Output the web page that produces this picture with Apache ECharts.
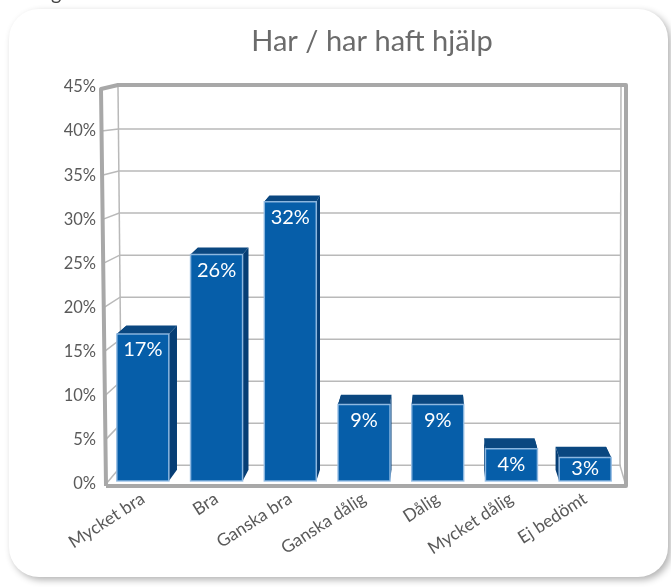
<!DOCTYPE html>
<html>
<head>
<meta charset="utf-8">
<script src="https://cdn.jsdelivr.net/npm/echarts@6/dist/echarts.min.js"></script>
<style>
  html, body { margin: 0; padding: 0; background: #fff; }
  #chart { width: 671px; height: 587px; }
</style>
</head>
<body>
<div id="chart"></div>
<script>
// data
var categories = ['Mycket bra', 'Bra', 'Ganska bra', 'Ganska dålig', 'Dålig', 'Mycket dålig', 'Ej bedömt'];
var values = [17, 26, 32, 9, 9, 4, 3];
var yMin = 0, yMax = 45, yStep = 5;

var dom = document.getElementById('chart');
var myChart = echarts.init(dom);

var FONT = 'Lato, "Open Sans", sans-serif';
var frameColor = '#a8a8a8';
var gridColor = '#b9b9b9';

// back-wall perspective: back wall is a bit shorter than the front scale
function backY(cs, y) { return cs.y + (y - cs.y) * 0.953; }

function renderFrame(params, api) {
    var cs = params.coordSys;
    var top = cs.y, bot = cs.y + cs.height, left = cs.x, right = cs.x + cs.width;
    var kids = [];
    var frontLeftX = function (y) { return left - 5 + (y - top) / cs.height * 5; };
    var backLeftX = function (y) { return left + 12 + (y - top) / cs.height * 4; };
    var backRight = right - 1;
    var floorBack = backY(cs, api.coord([0, yMin])[1]);

    // grid lines on back wall + left wall
    for (var v = yMin; v < yMax; v += yStep) {
        var yf = api.coord([0, v])[1];
        var yb = backY(cs, yf);
        kids.push({
            type: 'polyline',
            shape: { points: [[frontLeftX(yf), yf], [backLeftX(yb), yb], [backRight, yb]] },
            style: { stroke: gridColor, lineWidth: 1.5, fill: null }
        });
    }
    // back wall verticals
    kids.push({ type: 'line', shape: { x1: backLeftX(top), y1: top, x2: backLeftX(floorBack), y2: floorBack },
        style: { stroke: gridColor, lineWidth: 1.5 } });
    kids.push({ type: 'line', shape: { x1: backRight, y1: top - 2, x2: backRight - 1, y2: floorBack },
        style: { stroke: gridColor, lineWidth: 1.5 } });
    // right floor diagonal
    kids.push({ type: 'line', shape: { x1: backRight - 1, y1: floorBack, x2: right + 4, y2: bot + 2 },
        style: { stroke: gridColor, lineWidth: 1.5 } });
    // thick outer frame
    kids.push({
        type: 'polyline',
        shape: { points: [[left, bot + 2], [left - 5, top + 2], [left + 12, top - 2], [right + 4, top - 2],
            [right + 4, bot + 2], [left, bot + 2]] },
        style: { stroke: frameColor, lineWidth: 4, fill: null, lineJoin: 'round' }
    });
    return { type: 'group', children: kids };
}

// simple perspective toward a point above the middle of the plot
function back(pt) {
    return [pt[0] + (440 - pt[0]) * 0.03, pt[1] - (4 + (pt[1] - 85) * 0.018)];
}

function renderBar(params, api) {
    var i = api.value(0), v = api.value(1);
    var p = api.coord([i, v]);
    var p0 = api.coord([i, 0]);
    var w = 52;
    var xl = p[0] - w / 2, xr = p[0] + w / 2, yt = p[1], yb = p0[1] - 3;
    var ftl = [xl, yt], ftr = [xr, yt], fbl = [xl, yb], fbr = [xr, yb];
    var btl = back(ftl), btr = back(ftr), bbl = back(fbl), bbr = back(fbr);
    var ly = Math.min(yt + 16, yb - 12);
    return {
        type: 'group',
        children: [
            { type: 'polygon', shape: { points: [ftr, btr, bbr, fbr] }, style: { fill: '#063e75' } },
            { type: 'polygon', shape: { points: [ftl, btl, bbl, fbl] }, style: { fill: '#063e75' } },
            { type: 'polygon', shape: { points: [ftl, ftr, btr, btl] }, style: { fill: '#0a4780' } },
            { type: 'rect', shape: { x: xl, y: yt, width: w, height: yb - yt },
              style: { fill: '#065ea9', stroke: 'rgba(150,190,228,0.9)', lineWidth: 1.5 } },
            { type: 'text', style: { text: v + '%', x: p[0], y: ly, fill: '#ffffff',
              font: '20px ' + FONT, align: 'center', verticalAlign: 'middle' } }
        ]
    };
}

var option = {
    animation: false,
    title: {
        text: 'Har / har haft hjälp',
        left: 367,
        top: 22,
        textAlign: 'center',
        textStyle: { fontFamily: FONT, fontSize: 29, fontWeight: 'normal', color: '#6b6b6b' }
    },
    graphic: [
        {
            type: 'rect', z: -10,
            shape: { x: 9, y: 9, width: 659, height: 568, r: 30 },
            style: { fill: '#fff', shadowColor: 'rgba(0,0,0,0.3)', shadowBlur: 7, shadowOffsetX: 3, shadowOffsetY: 3 }
        },
        { type: 'text', x: 51, y: -16, style: { text: 'g', font: '20px ' + FONT, fill: '#444' } }
    ],
    grid: { left: 106, right: 49, top: 87, bottom: 103 },
    xAxis: {
        type: 'category',
        data: categories,
        axisLine: { show: false },
        axisTick: { show: false },
        axisLabel: { rotate: 33, margin: 13, interval: 0, fontFamily: FONT, fontSize: 17.5, color: '#5a5a5a' }
    },
    yAxis: {
        type: 'value',
        min: yMin, max: yMax, interval: yStep,
        axisLine: { show: false },
        axisTick: { show: false },
        splitLine: { show: false },
        axisLabel: { formatter: '{value}%', margin: 10, fontFamily: FONT, fontSize: 16.5, color: '#5a5a5a' }
    },
    series: [
        {
            type: 'custom',
            renderItem: renderFrame,
            data: [[0, 0]],
            encode: { x: 0, y: 1 },
            silent: true,
            z: 1
        },
        {
            type: 'custom',
            renderItem: renderBar,
            data: values.map(function (v, i) { return [i, v]; }),
            encode: { x: 0, y: 1 },
            z: 3
        }
    ]
};

if (option && typeof option === 'object') {
    myChart.setOption(option, true);
}
</script>
</body>
</html>
